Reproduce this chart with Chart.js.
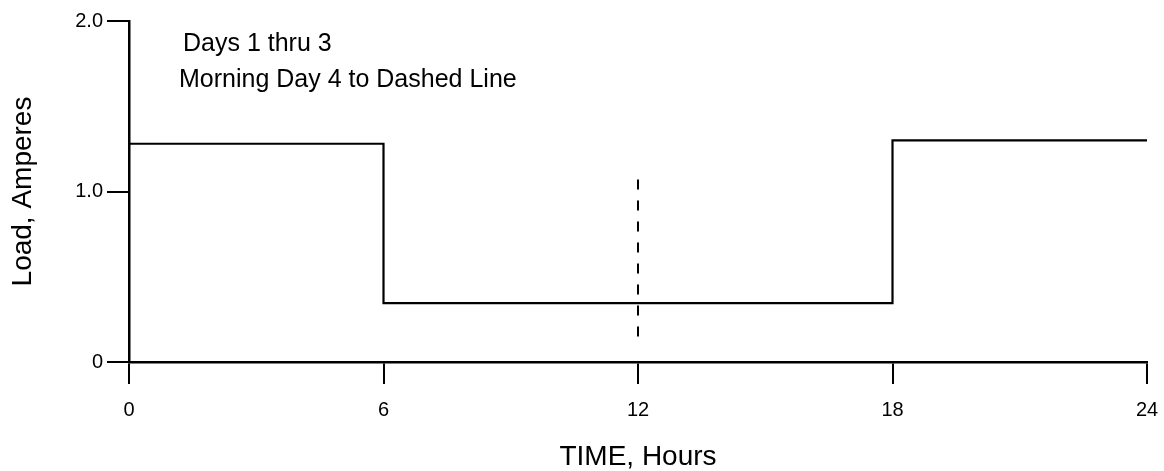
<!DOCTYPE html>
<html>
<head>
<meta charset="utf-8">
<script src="https://cdn.jsdelivr.net/npm/chart.js@4/dist/chart.umd.min.js"></script>
<style>
  html, body { margin: 0; padding: 0; background: #fff; }
  #wrap { width: 1164px; height: 471px; }
</style>
</head>
<body>
<div id="wrap"><canvas id="grafico" width="1164" height="471"></canvas></div>
<script>
// Datos
const horas = [0, 6, 18, 24];
const carga = [1.28, 0.345, 1.30, 1.30];
const horasDiscontinua = [12, 12];
const cargaDiscontinua = [1.07, 0.15];
const ticksX = [0, 6, 12, 18, 24];
const ticksY = [0, 1.0, 2.0];
const notas = ['Days 1 thru 3', 'Morning Day 4 to Dashed Line'];

const fuente = "'Liberation Sans', Arial, Helvetica, sans-serif";

// Texto dentro del área del gráfico
const notasPlugin = {
    id: 'notas',
    afterDraw(chart) {
        const ctx = chart.ctx;
        const area = chart.chartArea;
        ctx.save();
        ctx.fillStyle = '#000';
        ctx.font = '25px ' + fuente;
        ctx.textBaseline = 'alphabetic';
        ctx.textAlign = 'left';
        ctx.fillText(notas[0], area.left + 54, area.top + 30);
        ctx.fillText(notas[1], area.left + 50, area.top + 66);
        ctx.restore();
    }
};

new Chart(document.getElementById('grafico').getContext('2d'), {
    type: 'line',
    data: {
        datasets: [
            {
                label: 'Carga',
                data: horas.map((h, i) => ({ x: h, y: carga[i] })),
                borderColor: '#000',
                borderWidth: 2.2,
                stepped: 'before',
                pointRadius: 0,
                fill: false
            },
            {
                label: 'Discontinua',
                data: horasDiscontinua.map((h, i) => ({ x: h, y: cargaDiscontinua[i] })),
                borderColor: '#000',
                borderWidth: 2,
                borderDash: [10, 11],
                pointRadius: 0,
                fill: false
            }
        ]
    },
    options: {
        responsive: false,
        animation: false,
        layout: { padding: { top: 21, right: 17, bottom: 0, left: 0 } },
        plugins: {
            legend: { display: false },
            tooltip: { enabled: false }
        },
        scales: {
            x: {
                type: 'linear',
                min: 0,
                max: 24,
                afterFit: (s) => { s.height = 109; s.paddingLeft = 0; s.paddingRight = 0; },
                afterBuildTicks: (s) => { s.ticks = ticksX.map(v => ({ value: v })); },
                border: { display: true, color: '#000', width: 2.5 },
                grid: { drawOnChartArea: false, drawTicks: true, tickLength: 22, color: '#000', lineWidth: 2 },
                ticks: {
                    color: '#000',
                    padding: 14,
                    maxRotation: 0,
                    font: { family: fuente, size: 20 },
                    callback: (v) => String(v)
                },
                title: {
                    display: true,
                    text: 'TIME, Hours',
                    color: '#000',
                    font: { family: fuente, size: 28, lineHeight: 1.0 },
                    padding: { top: 0, bottom: 0 }
                }
            },
            y: {
                type: 'linear',
                min: 0,
                max: 2,
                afterFit: (s) => { s.width = 129; s.paddingTop = 0; s.paddingBottom = 0; },
                afterBuildTicks: (s) => { s.ticks = ticksY.map(v => ({ value: v })); },
                border: { display: true, color: '#000', width: 2.5 },
                grid: { drawOnChartArea: false, drawTicks: true, tickLength: 22, color: '#000', lineWidth: 2 },
                ticks: {
                    color: '#000',
                    padding: 4,
                    font: { family: fuente, size: 20 },
                    callback: (v) => v === 0 ? '0' : v.toFixed(1)
                },
                title: {
                    display: true,
                    text: 'Load, Amperes',
                    color: '#000',
                    font: { family: fuente, size: 28, lineHeight: 1.2 },
                    padding: { top: 6, bottom: 0 }
                }
            }
        }
    },
    plugins: [notasPlugin]
});
</script>
</body>
</html>
